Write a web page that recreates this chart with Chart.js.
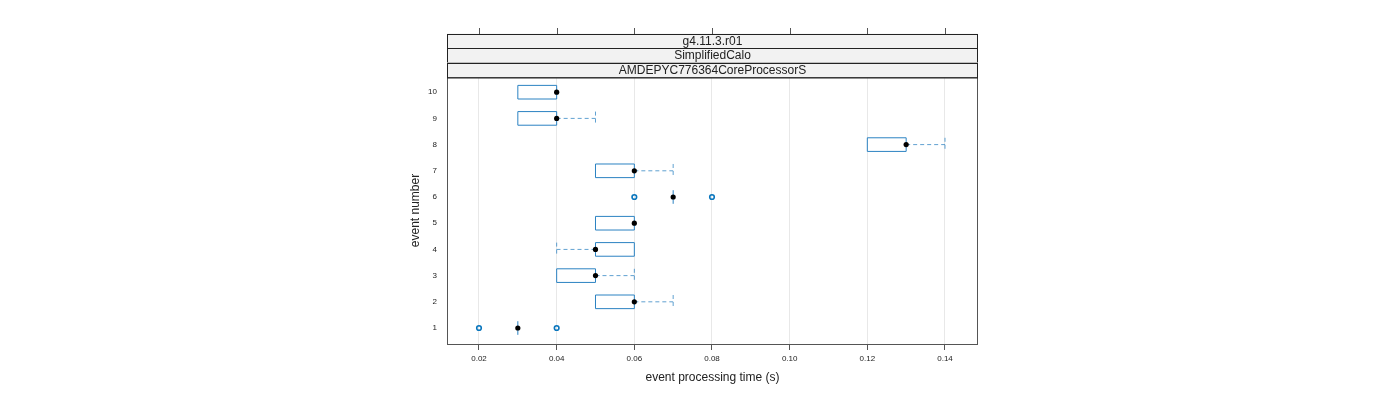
<!DOCTYPE html>
<html lang="en">
<head>
    <meta charset="UTF-8">
    <title>event processing time</title>
    <script src="https://cdn.jsdelivr.net/npm/chart.js"></script>
    <style>
        html, body { margin: 0; padding: 0; background: #fff; }
        #wrap { width: 1400px; height: 400px; }
    </style>
</head>
<body>
    <div id="wrap"><canvas id="bwChart" width="1400" height="400"></canvas></div>

    <script>
        // one entry per event (1..10)
        const events     = [1, 2, 3, 4, 5, 6, 7, 8, 9, 10];
        const q1         = [0.03, 0.05, 0.04, 0.05, 0.05, 0.07, 0.05, 0.12, 0.03, 0.03];
        const medians    = [0.03, 0.06, 0.05, 0.05, 0.06, 0.07, 0.06, 0.13, 0.04, 0.04];
        const q3         = [0.03, 0.06, 0.05, 0.06, 0.06, 0.07, 0.06, 0.13, 0.04, 0.04];
        const whiskerLo  = [0.03, 0.05, 0.04, 0.04, 0.05, 0.07, 0.05, 0.12, 0.03, 0.03];
        const whiskerHi  = [0.03, 0.07, 0.06, 0.06, 0.06, 0.07, 0.07, 0.14, 0.05, 0.04];
        const outlierEvt = [1, 1, 6, 6];
        const outlierVal = [0.02, 0.04, 0.06, 0.08];

        const xTicks = [0.02, 0.04, 0.06, 0.08, 0.10, 0.12, 0.14];
        const yTicks = [1, 2, 3, 4, 5, 6, 7, 8, 9, 10];
        const strips = ['g4.11.3.r01', 'SimplifiedCalo', 'AMDEPYC776364CoreProcessorS'];

        const boxCol = '#2b82c2';
        const frameCol = '#555555';
        const halfH = 0.26;

        const bwPlugin = {
            id: 'bw',
            beforeDatasetsDraw(chart) {
                const ctx = chart.ctx;
                const x = chart.scales.x, y = chart.scales.y;
                ctx.save();
                ctx.lineWidth = 1;
                events.forEach((e, i) => {
                    const yc = y.getPixelForValue(e);
                    const yt = y.getPixelForValue(e + halfH);
                    const yb = y.getPixelForValue(e - halfH);
                    const x1 = x.getPixelForValue(q1[i]);
                    const x3 = x.getPixelForValue(q3[i]);
                    // whiskers (dashed)
                    ctx.strokeStyle = boxCol;
                    ctx.setLineDash([4, 3]);
                    ctx.globalAlpha = 0.75;
                    if (whiskerLo[i] < q1[i]) {
                        const xl = x.getPixelForValue(whiskerLo[i]);
                        ctx.beginPath();
                        ctx.moveTo(x1, yc); ctx.lineTo(xl, yc);
                        ctx.moveTo(xl, yt); ctx.lineTo(xl, yb);
                        ctx.stroke();
                    }
                    if (whiskerHi[i] > q3[i]) {
                        const xh = x.getPixelForValue(whiskerHi[i]);
                        ctx.beginPath();
                        ctx.moveTo(x3, yc); ctx.lineTo(xh, yc);
                        ctx.moveTo(xh, yt); ctx.lineTo(xh, yb);
                        ctx.stroke();
                    }
                    // box
                    ctx.setLineDash([]);
                    ctx.globalAlpha = 1;
                    ctx.beginPath();
                    if (x3 - x1 < 1) {
                        ctx.moveTo(x1, yt); ctx.lineTo(x1, yb);
                    } else {
                        ctx.rect(x1, yt, x3 - x1, yb - yt);
                    }
                    ctx.stroke();
                });
                ctx.restore();
            },
            afterDraw(chart) {
                const ctx = chart.ctx;
                const a = chart.chartArea;
                const x = chart.scales.x;
                ctx.save();
                // panel frame
                ctx.strokeStyle = frameCol;
                ctx.lineWidth = 1;
                ctx.strokeRect(a.left + 0.5, a.top + 0.5, a.right - a.left - 1, a.bottom - a.top);
                // strips
                const sh = 14.5;
                ctx.font = '12px "Liberation Sans", Arial, sans-serif';
                ctx.textAlign = 'center';
                ctx.textBaseline = 'middle';
                strips.forEach((s, k) => {
                    const top = a.top - sh * (strips.length - k);
                    ctx.fillStyle = '#f2f2f2';
                    ctx.fillRect(a.left, top, a.right - a.left, sh);
                    ctx.strokeStyle = '#222';
                    ctx.strokeRect(a.left + 0.5, Math.round(top) + 0.5, a.right - a.left - 1, sh);
                    ctx.fillStyle = '#222';
                    ctx.fillText(s, (a.left + a.right) / 2, top + sh / 2 + 0.5);
                });
                // top ticks
                const stripTop = Math.round(a.top - sh * strips.length);
                ctx.strokeStyle = frameCol;
                ctx.beginPath();
                xTicks.forEach(v => {
                    const px = Math.round(x.getPixelForValue(v)) + 0.5;
                    ctx.moveTo(px, stripTop); ctx.lineTo(px, stripTop - 6);
                });
                ctx.stroke();
                ctx.restore();
            }
        };

        const medianPts = events.map((e, i) => ({ x: medians[i], y: e }));
        const outlierPts = outlierEvt.map((e, i) => ({ x: outlierVal[i], y: e }));

        new Chart(document.getElementById('bwChart'), {
            type: 'scatter',
            data: {
                datasets: [
                    {
                        label: 'median',
                        data: medianPts,
                        pointRadius: 2.6,
                        pointBackgroundColor: '#000',
                        pointBorderColor: '#000',
                        pointBorderWidth: 0
                    },
                    {
                        label: 'outliers',
                        data: outlierPts,
                        pointRadius: 2.3,
                        pointBackgroundColor: 'rgba(0,0,0,0)',
                        pointBorderColor: '#0a76bd',
                        pointBorderWidth: 1.6
                    }
                ]
            },
            options: {
                responsive: false,
                animation: false,
                layout: { padding: { left: 400, right: 422, top: 77, bottom: 0 } },
                plugins: { legend: { display: false }, tooltip: { enabled: false } },
                scales: {
                    x: {
                        type: 'linear',
                        min: 0.01176,
                        max: 0.1485,
                        afterBuildTicks: s => { s.ticks = xTicks.map(v => ({ value: v })); },
                        afterFit: s => { s.height = 56; },
                        grid: { color: '#e8e8e8', tickColor: frameCol, tickLength: 6, drawOnChartArea: true },
                        border: { display: false },
                        ticks: {
                            color: '#222',
                            font: { size: 8, family: '"Liberation Sans", Arial, sans-serif' },
                            padding: 4,
                            maxRotation: 0,
                            callback: v => v.toFixed(2)
                        },
                        title: {
                            display: true,
                            text: 'event processing time (s)',
                            color: '#222',
                            font: { size: 12, family: '"Liberation Sans", Arial, sans-serif' },
                            padding: { top: 6, bottom: 15 }
                        }
                    },
                    y: {
                        type: 'linear',
                        min: 0.39,
                        max: 10.58,
                        afterBuildTicks: s => { s.ticks = yTicks.map(v => ({ value: v })); },
                        afterFit: s => { s.width = 47; },
                        grid: { display: false },
                        border: { display: false },
                        ticks: {
                            color: '#222',
                            font: { size: 8, family: '"Liberation Sans", Arial, sans-serif' },
                            padding: 2
                        },
                        title: {
                            display: true,
                            text: 'event number',
                            color: '#222',
                            font: { size: 12, family: '"Liberation Sans", Arial, sans-serif' },
                            padding: { top: 8, bottom: 0 }
                        }
                    }
                }
            },
            plugins: [bwPlugin]
        });
    </script>
</body>
</html>
